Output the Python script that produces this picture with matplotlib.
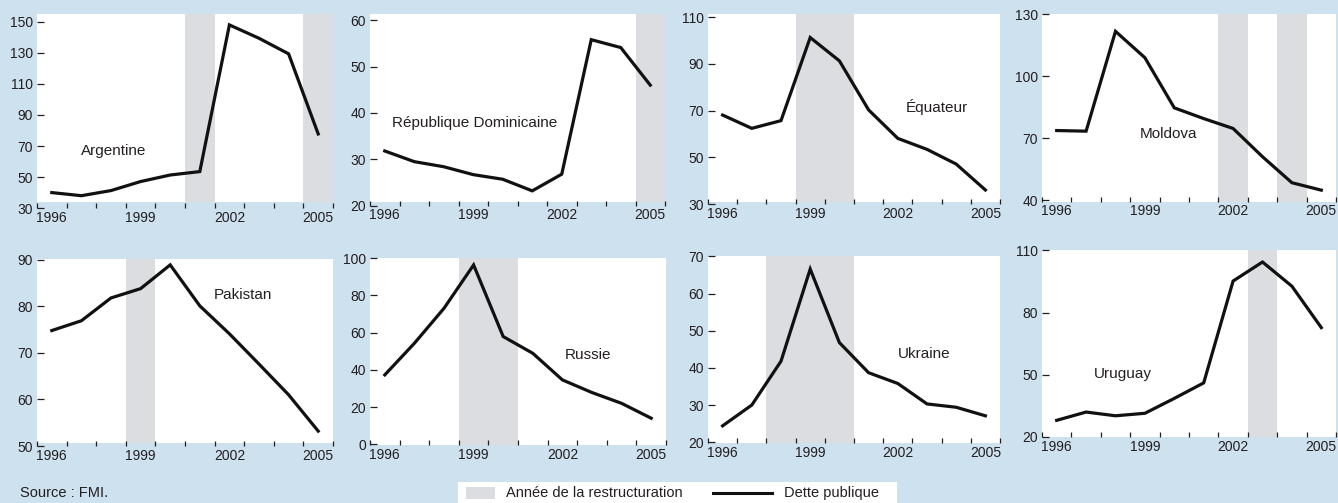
import matplotlib
matplotlib.use("Agg")
import matplotlib.pyplot as plt
from matplotlib.patches import Rectangle
from matplotlib.lines import Line2D
from matplotlib.ticker import FixedLocator

# Dette publique (% du PIB), 1996-2005
years = [1996, 1997, 1998, 1999, 2000, 2001, 2002, 2003, 2004, 2005]
year_labels = [1996, 1999, 2002, 2005]

argentine = [40.1, 38.1, 41.4, 47.2, 51.4, 53.6, 147.9, 139.3, 129.3, 77.8]
dominicaine = [31.8, 29.5, 28.4, 26.7, 25.7, 23.2, 26.8, 55.8, 54.1, 46.0]
equateur = [68.1, 62.4, 65.7, 101.3, 91.3, 70.3, 58.1, 53.4, 47.1, 36.0]
moldova = [73.7, 73.4, 121.8, 109.0, 84.7, 79.5, 74.7, 61.0, 48.4, 44.8]
pakistan = [74.8, 76.9, 81.8, 83.8, 88.9, 80.1, 74.1, 67.6, 61.0, 53.2]
russie = [37.3, 54.3, 73.1, 96.4, 57.9, 48.9, 34.6, 27.8, 22.0, 14.0]
ukraine = [24.4, 30.0, 41.8, 66.6, 46.8, 38.7, 35.8, 30.3, 29.4, 27.1]
uruguay = [27.9, 31.9, 30.1, 31.3, 38.5, 46.0, 95.2, 104.4, 92.7, 72.7]

# années de restructuration
argentine_restr = [2001, 2005]
dominicaine_restr = [2005]
equateur_restr = [1999, 2000]
moldova_restr = [2002, 2004]
pakistan_restr = [1999]
russie_restr = [1999, 2000]
ukraine_restr = [1998, 1999, 2000]
uruguay_restr = [2003]

argentine_ticks = [30, 50, 70, 90, 110, 130, 150]
dominicaine_ticks = [20, 30, 40, 50, 60]
equateur_ticks = [30, 50, 70, 90, 110]
moldova_ticks = [40, 70, 100, 130]
pakistan_ticks = [50, 60, 70, 80, 90]
russie_ticks = [0, 20, 40, 60, 80, 100]
ukraine_ticks = [20, 30, 40, 50, 60, 70]
uruguay_ticks = [20, 50, 80, 110]

panels = [
    ("Argentine", argentine, argentine_restr, argentine_ticks),
    ("République Dominicaine", dominicaine, dominicaine_restr, dominicaine_ticks),
    ("Équateur", equateur, equateur_restr, equateur_ticks),
    ("Moldova", moldova, moldova_restr, moldova_ticks),
    ("Pakistan", pakistan, pakistan_restr, pakistan_ticks),
    ("Russie", russie, russie_restr, russie_ticks),
    ("Ukraine", ukraine, ukraine_restr, ukraine_ticks),
    ("Uruguay", uruguay, uruguay_restr, uruguay_ticks),
]

# mise en page (pixels) : gauche, droite, haut du cadre blanc, ligne de base, écart blanc/base
boxes = [
    (37, 333, 13.7, 208.3, 6.6),
    (370, 665, 13.7, 205.7, 4.0),
    (708, 1000, 13.7, 204.0, 2.3),
    (1042, 1336, 14.0, 201.7, 0),
    (37, 333, 259.3, 446.0, 3.0),
    (370, 666, 257.7, 445.0, 0),
    (708, 1000, 255.7, 443.3, 0),
    (1042, 1336, 250.0, 437.3, 0),
]
ylims = [(30, 155.1), (20, 61.4), (30, 111.5), (39.2, 130.2),
         (50, 90.1), (-0.4, 100.3), (19.7, 70.2), (19.7, 110.2)]
label_pos = [(1998.1, 67.1), (1999.05, 37.9), (2003.35, 71.7), (1999.8, 71.8),
             (2002.45, 82.4), (2002.85, 47.8), (2002.9, 43.8), (1998.25, 50.2)]

W, H = 1338, 503
BG = "#cde1ef"
GRIS = "#dcdde0"
TXT = "#231f20"

plt.rcParams["font.family"] = ["Liberation Sans", "DejaVu Sans"]

fig = plt.figure(figsize=(W / 100, H / 100), dpi=100)
fig.patch.set_facecolor(BG)

for (name, vals, restr, yt), (l, r, top, base, gap), yl, lp in zip(panels, boxes, ylims, label_pos):
    ax = fig.add_axes([l / W, 1 - base / H, (r - l) / W, (base - top) / H])
    ax.set_facecolor("none")
    gf = gap / (base - top)
    ax.add_patch(Rectangle((0, gf), 1, 1 - gf, transform=ax.transAxes,
                           facecolor="white", edgecolor="none", zorder=0))
    for y in restr:
        ax.axvspan(y - 0.5, y + 0.5, ymin=gf, ymax=1, color=GRIS, lw=0, zorder=0.5)
    ax.plot(years, vals, color="#111111", lw=2.3, solid_joinstyle="miter", zorder=3)
    ax.text(lp[0], lp[1], name, ha="center", va="center", fontsize=11, color=TXT, zorder=4)

    ax.set_xlim(1995.5, 2005.5)
    ax.set_ylim(*yl)
    ax.set_yticks(yt)
    ax.set_xticks(year_labels)
    ax.xaxis.set_minor_locator(FixedLocator([y + 0.5 for y in range(1995, 2006)]))
    for s in ax.spines.values():
        s.set_visible(False)
    ax.tick_params(axis="x", which="major", length=0, pad=2, labelsize=10, labelcolor=TXT)
    ax.tick_params(axis="x", which="minor", direction="in", length=3.8, width=0.9, color=TXT)
    ax.tick_params(axis="y", direction="in", length=5, width=0.9, color=TXT,
                   pad=3, labelsize=10, labelcolor=TXT)

# source
fig.text(20 / W, 1 - 493 / H, "Source : FMI.", ha="left", va="center", fontsize=10.5, color=TXT)

# légende
fig.patches.append(Rectangle((458 / W, 0), (897 - 458) / W, (503 - 482) / H,
                             transform=fig.transFigure, facecolor="white", edgecolor="none"))
fig.patches.append(Rectangle((466 / W, 1 - 499.3 / H), 29 / W, 12.6 / H,
                             transform=fig.transFigure, facecolor=GRIS, edgecolor="none"))
fig.text(506 / W, 1 - 493 / H, "Année de la restructuration", ha="left", va="center",
         fontsize=10.5, color=TXT)
fig.lines.append(Line2D([713 / W, 772 / W], [1 - 493 / H, 1 - 493 / H],
                        transform=fig.transFigure, color="#111111", lw=2.2))
fig.text(784 / W, 1 - 493 / H, "Dette publique", ha="left", va="center",
         fontsize=10.5, color=TXT)

fig.savefig("out.png", dpi=100, facecolor=BG)
